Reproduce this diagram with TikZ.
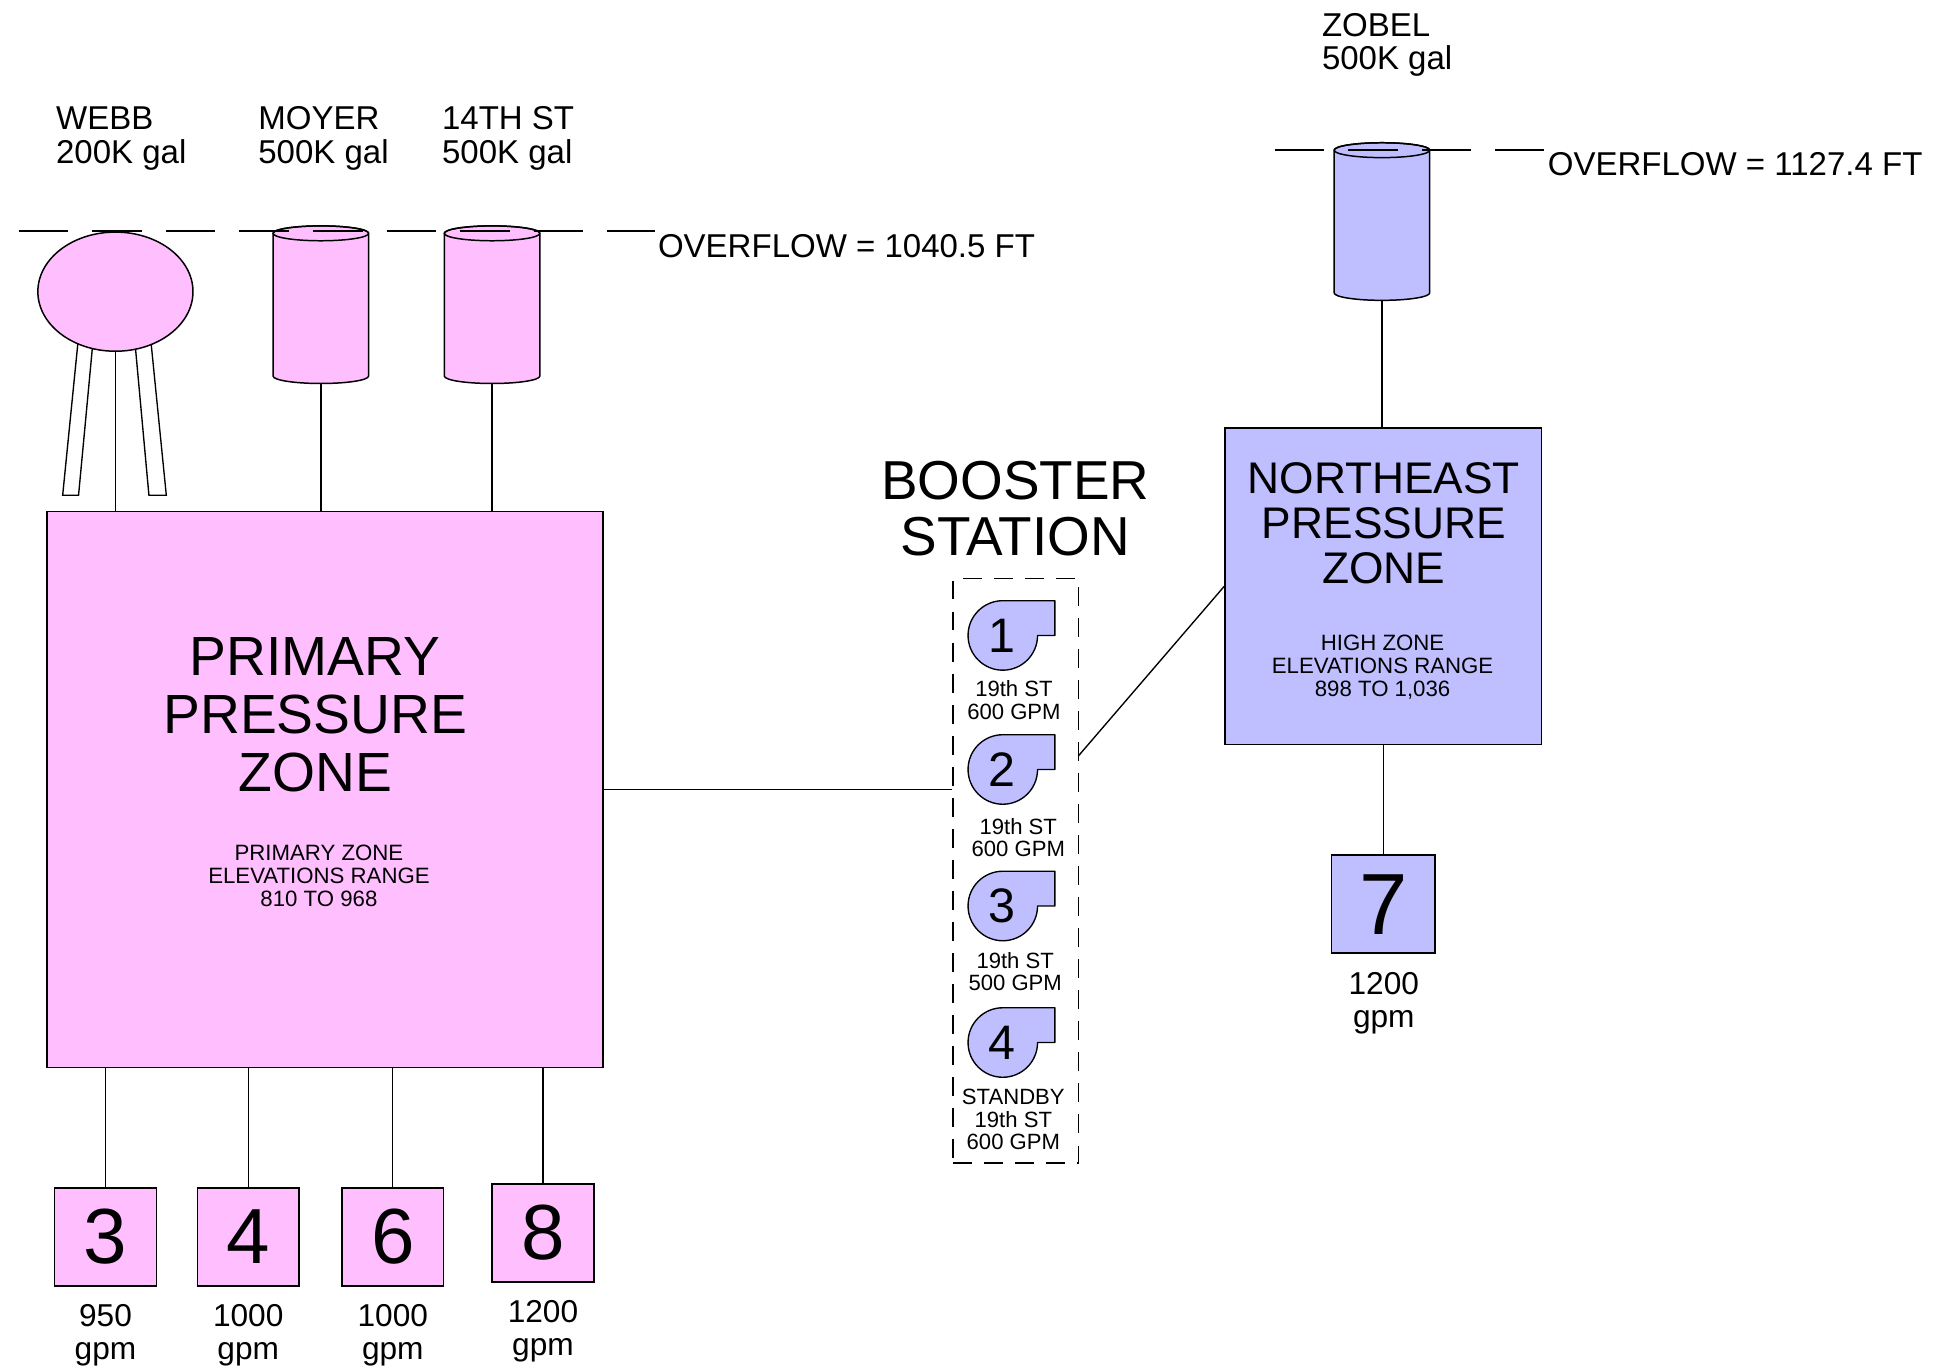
\documentclass[tikz,border=0pt]{standalone}
\usepackage{fontspec}
\setmainfont{Liberation Sans}
\usetikzlibrary{shapes.geometric}

\definecolor{zonepink}{RGB}{255,191,255}
\definecolor{zoneblue}{RGB}{191,191,255}

\tikzset{
  pipe/.style={line width=1.1pt},
  overflow/.style={line width=1.1pt, dash pattern=on 40pt off 19.3pt},
  zonebox/.style={draw, line width=1.3pt, rectangle, inner sep=0},
  meterbox/.style={draw, line width=1.3pt, minimum width=82pt, minimum height=79pt,
    inner sep=0, font=\fontsize{63}{63}\selectfont},
  tankline/.style={draw, line width=1.2pt, line join=round},
  tanktxt/.style={font=\fontsize{26.6}{27}\selectfont, align=left, inner sep=0, anchor=west},
  gpmtxt/.style={font=\fontsize{25.5}{26.5}\selectfont, align=center, inner sep=0},
  bigtxt/.style={font=\fontsize{44.5}{46.5}\selectfont, align=center, inner sep=0},
  netxt/.style={font=\fontsize{35.7}{36.5}\selectfont, align=center, inner sep=0},
  smalltxt/.style={font=\fontsize{17.9}{18.5}\selectfont, align=center, inner sep=0},
  pumpbody/.style={draw, line width=1.1pt, fill=zoneblue, line join=round},
  pumpnum/.style={font=\fontsize{39}{39}\selectfont, inner sep=0},
}

\begin{document}
\begin{tikzpicture}[x=1pt, y=1pt, line cap=butt]
  \useasboundingbox (0,0) rectangle (1568,-1103);

  % pressure zones
  \node[zonebox, fill=zonepink, minimum width=448pt, minimum height=448pt] (primary) at (262,-636) {};
  \node[bigtxt] (primtitle) at (254,-576) {PRIMARY\\PRESSURE\\ZONE};
  \node[smalltxt] (primrange) at (257,-705.5) {PRIMARY ZONE\\ELEVATIONS RANGE\\810 TO 968};

  \node[zonebox, fill=zoneblue, minimum width=255pt, minimum height=255pt] (northeast) at (1114.5,-472.5) {};
  \node[netxt] (netitle) at (1115,-421.5) {NORTHEAST\\PRESSURE\\ZONE};
  \node[smalltxt] (nerange) at (1114,-537.5) {HIGH ZONE\\ELEVATIONS RANGE\\898 TO 1,036};

  % webb tower
  \draw[pipe, fill=white] (63.4,-270) -- (50.5,-399) -- (63.3,-399) -- (75.4,-270) -- cycle;
  \draw[pipe, fill=white] (108.2,-270) -- (120,-399) -- (134,-399) -- (121.1,-270) -- cycle;
  \node[ellipse, draw, line width=1.2pt, fill=zonepink, minimum width=125pt, minimum height=96pt,
    inner sep=0] (webb) at (93,-235) {};
  \draw[pipe] (webb.south) -- (webb.south |- primary.north);

  % standpipes
  \foreach \tname/\cx/\ty/\col in {moyer/258.5/188/zonepink, fourteenth/396.5/188/zonepink,
      zobel/1113.5/121/zoneblue} {
    \begin{scope}[shift={(\cx,-\ty)}]
      \path[tankline, fill=\col] (-38.5,0) -- (-38.5,-115)
        arc[start angle=180, end angle=360, x radius=38.5pt, y radius=6pt]
        -- (38.5,0) arc[start angle=0, end angle=180, x radius=38.5pt, y radius=6pt] -- cycle;
      \draw[tankline] (0,0) ellipse[x radius=38.5pt, y radius=6pt];
      \coordinate (\tname) at (0,-121);
    \end{scope}
  }
  \draw[pipe] (moyer) -- (moyer |- primary.north);
  \draw[pipe] (fourteenth) -- (fourteenth |- primary.north);
  \draw[pipe] (zobel) -- (zobel |- northeast.north);

  \node[tanktxt] (webbtxt) at (45,-111.5) {WEBB\\200K gal};
  \node[tanktxt] (moyertxt) at (208,-111.5) {MOYER\\500K gal};
  \node[tanktxt] (fourteenthtxt) at (356,-111.5) {14TH ST\\500K gal};
  \node[tanktxt] (zobeltxt) at (1065,-36) {ZOBEL\\500K gal};

  % overflow levels
  \draw[overflow] (15,-186) -- (528,-186);
  \node[tanktxt] (lowover) at (530,-198) {OVERFLOW = 1040.5 FT};
  \draw[overflow] (1027,-121) -- (1244,-121);
  \node[tanktxt] (highover) at (1247,-132.5) {OVERFLOW = 1127.4 FT};

  % booster station
  \node[bigtxt, font=\fontsize{44.2}{45}\selectfont] (boosttxt) at (818,-409.5) {BOOSTER\\STATION};
  \node[draw, line width=1.1pt, dash pattern=on 15pt off 10pt, minimum width=101pt,
    minimum height=471pt, inner sep=0] (booster) at (818.5,-701.5) {};
  \foreach \n/\y/\lx/\ly/\txt in {1/512/817/564/{19th ST\\600 GPM},
      2/620/820.5/675/{19th ST\\600 GPM},
      3/730/818/783/{19th ST\\500 GPM},
      4/840/816.5/902/{STANDBY\\19th ST\\600 GPM}} {
    \begin{scope}[shift={(808,-\y)}]
      \draw[pumpbody] (0,28) -- (42,28) -- (42,0) -- (28,0)
        arc[start angle=0, end angle=-270, radius=28pt] -- cycle;
      \node[pumpnum] (pump\n) at (-1,0) {\n};
    \end{scope}
    \node[smalltxt, font=\fontsize{17.8}{18}\selectfont] (pumptxt\n) at (\lx,-\ly) {\txt};
  }
  \coordinate (boostout) at (869,-609);
  \draw[pipe] (primary.east) -- (primary.east -| booster.west);
  \draw[pipe] (boostout) -- (northeast.west);

  % wells
  \foreach \n/\x/\y/\q in {3/85/996.5/950, 4/200/996.5/1000, 6/316.5/996.5/1000, 8/437.5/993.5/1200} {
    \node[meterbox, fill=zonepink] (well\n) at (\x,-\y) {\n};
    \node[gpmtxt] (gpm\n) at (\x,{-\y-79}) {\q\\gpm};
    \draw[pipe] (well\n.north) -- (well\n.north |- primary.south);
  }
  \node[meterbox, fill=zoneblue, minimum width=83pt, font=\fontsize{70}{70}\selectfont] (well7) at (1114.5,-728.5) {7};
  \node[gpmtxt] (gpm7) at (1115,-808.5) {1200\\gpm};
  \draw[pipe] (well7.north) -- (well7.north |- northeast.south);

\end{tikzpicture}
\end{document}
